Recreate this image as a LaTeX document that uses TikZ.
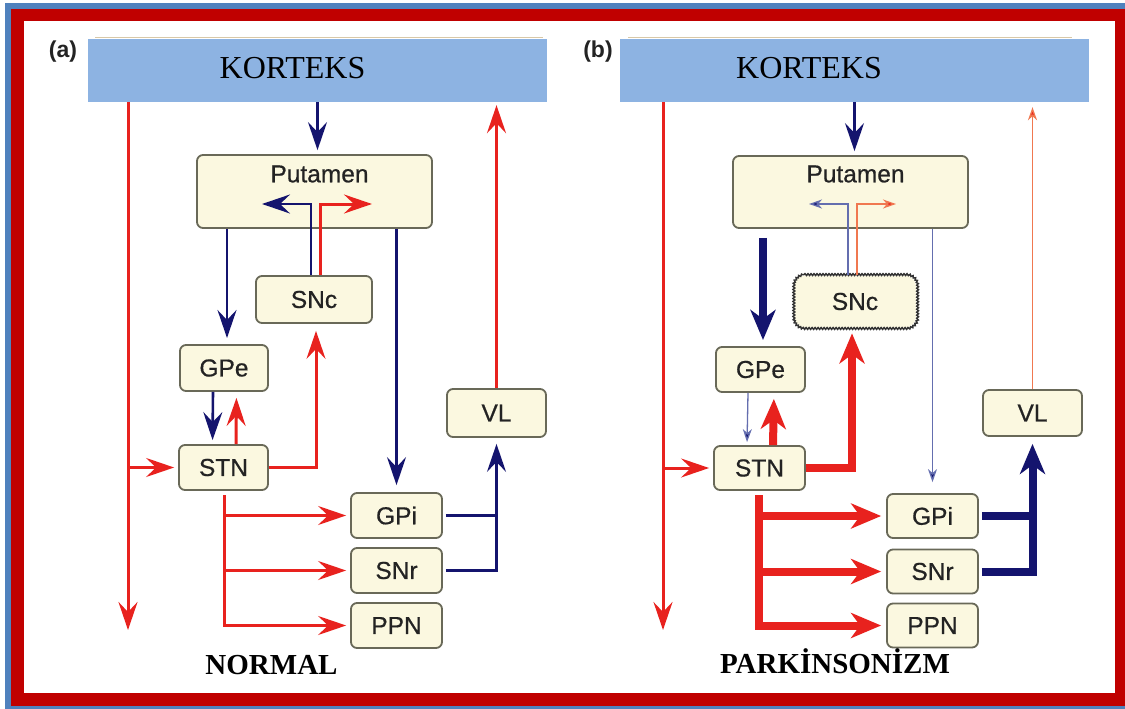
\documentclass[tikz,border=0pt]{standalone}
\usepackage{fontspec}
\setmainfont{Liberation Serif}
\newfontfamily\arialf{Liberation Sans}[FakeBold=0.6]
\newfontfamily\arialb{Liberation Sans}
\usetikzlibrary{arrows.meta,decorations.pathmorphing,calc}
\definecolor{framebl}{RGB}{79,129,189}
\definecolor{framered}{RGB}{192,0,0}
\definecolor{kfill}{RGB}{141,179,226}
\definecolor{boxfill}{RGB}{251,248,224}
\definecolor{boxborder}{RGB}{105,105,88}
\definecolor{boxtext}{RGB}{35,35,35}
\definecolor{redc}{RGB}{232,34,30}
\definecolor{navyc}{RGB}{20,20,110}
\definecolor{thinblue}{RGB}{100,110,175}
\definecolor{thinorange}{RGB}{240,120,80}
\definecolor{tanc}{RGB}{216,200,168}
\begin{document}
\begin{tikzpicture}[x=1pt,y=-1pt,
  kbox/.style={fill=kfill, draw=none, inner sep=0pt},
  ktext/.style={inner sep=0pt, font=\fontsize{32}{36}\selectfont, text=black},
  box/.style={draw=boxborder, fill=boxfill, line width=1.8pt, rounded corners=6pt,
    inner sep=0pt, font=\arialf\fontsize{24.5}{28}\selectfont, text=boxtext},
  btext/.style={inner sep=0pt, font=\arialf\fontsize{24.5}{28}\selectfont, text=boxtext},
  wavyline/.style={line width=1.5pt, draw=black!80, sharp corners, decorate,
    decoration={snake, amplitude=0.9pt, segment length=3pt}},
  lab/.style={inner sep=0pt, font=\arialb\bfseries\fontsize{23}{27}\selectfont, text=boxtext},
  ttl/.style={inner sep=0pt, font=\bfseries\fontsize{29}{32}\selectfont, text=black},
  rl/.style={draw=redc, line width=3pt},
  bl/.style={draw=navyc, line width=2.6pt},
  ra/.style={rl, -{Stealth[length=28pt,width=19pt,inset=10pt]}},
  ba/.style={bl, -{Stealth[length=28pt,width=19pt,inset=10pt]}},
  rthickl/.style={draw=redc, line width=8pt},
  bthickl/.style={draw=navyc, line width=8pt},
  rthick/.style={rthickl, -{Stealth[length=30pt,width=25pt,inset=9pt]}},
  bthick/.style={bthickl, -{Stealth[length=30pt,width=25pt,inset=9pt]}},
  bthin/.style={draw=thinblue, line width=1.3pt, -{Stealth[length=13pt,width=9pt,inset=4pt,fill=navyc]}},
  othin/.style={draw=thinorange, line width=1.3pt, -{Stealth[length=13pt,width=9pt,inset=4pt,fill=redc]}}
]
\useasboundingbox (0,0) rectangle (1125,709);
% frame
\fill[white] (0,0) rectangle (1125,709);
\fill[framebl] (5,3) rectangle (1125,709);
\fill[framered] (11,9) rectangle (1125,706);
\fill[white] (24,21) rectangle (1115,693);

% ---------------- panel (a) ----------------
\draw[tanc, line width=1pt] (95,38) -- (543,38);
\node[kbox, minimum width=459pt, minimum height=63pt] (ka) at (317.5,70.5) {};
\node[ktext, anchor=base] (kta) at (292.5,79) {KORTEKS};
\node[lab] (labA) at (63,52) {(a)};
\node[box, minimum width=235pt, minimum height=73pt] (pa) at (314.5,191.5) {};
\node[btext] (pta) at (319.5,174) {Putamen};
\node[box, minimum width=116pt, minimum height=47pt] (sa) at (314,299.5) {SNc};
\node[box, minimum width=88pt, minimum height=46pt] (ga) at (224,368) {GPe};
\node[box, minimum width=89pt, minimum height=45pt] (ta) at (223.5,467.5) {STN};
\node[box, minimum width=91pt, minimum height=45pt] (gia) at (396.5,515.5) {GPi};
\node[box, minimum width=91pt, minimum height=45pt] (sra) at (396.5,570.5) {SNr};
\node[box, minimum width=91pt, minimum height=45pt] (ppa) at (396.5,625.5) {PPN};
\node[box, minimum width=99pt, minimum height=48pt] (va) at (496.5,413) {VL};
\node[ttl, anchor=base] (nA) at (271.5,674) {NORMAL};

\coordinate (la) at (128,630);
\draw[ra] (ka.south -| la) -- (la);
\draw[ra, shorten >=4pt] (la |- ta.west) -- (ta.west);
\draw[ba, shorten >=4pt] (ka.south) -- (ka.south |- pa.north);
\coordinate (pla) at (262,204);
\coordinate (pra) at (372,204);
\draw[ba] ([xshift=-3pt]sa.north) |- (pla);
\draw[ra] ([xshift=6pt]sa.north) |- (pra);
\coordinate (gax) at (227,338);
\draw[ba] (pa.south -| gax) -- (gax);
\draw[ba, shorten >=7pt] (pa.south -| gia.north) -- (gia.north);
\draw[ba, shorten >=4pt] ([xshift=-11pt]ga.south) -- ([xshift=-11pt]ta.north);
\draw[ra, shorten >=6pt] ([xshift=12.5pt]ta.north) -- ([xshift=12.5pt]ga.south);
\draw[ra, shorten >=7pt] (ta.east) -| ([xshift=2pt]sa.south);
\coordinate (sta) at (224,495);
\draw[ra, shorten >=4pt] (sta) |- (ppa.west);
\draw[ra, shorten >=4pt] (sta |- gia.west) -- (gia.west);
\draw[ra, shorten >=4pt] (sta |- sra.west) -- (sra.west);
\draw[bl] ([xshift=3pt]gia.east) -- (gia.east -| va.south);
\draw[ba, shorten >=6pt] ([xshift=3pt]sra.east) -| (va.south);
\draw[ra, shorten >=3pt] (va.north) -- (va.north |- ka.south);

% ---------------- panel (b) ----------------
\draw[tanc, line width=1pt] (628,38) -- (1072,38);
\node[kbox, minimum width=469pt, minimum height=63pt] (kb) at (854.5,70.5) {};
\node[ktext, anchor=base] (ktb) at (809,79) {KORTEKS};
\node[lab] (labB) at (598,52) {(b)};
\node[box, minimum width=235pt, minimum height=72pt] (pb) at (850.5,192) {};
\node[btext] (ptb) at (855.5,174) {Putamen};
\node[box, draw=none, rounded corners=11pt, minimum width=122pt, minimum height=52pt] (sb) at (855,301.5) {SNc};
\draw[wavyline] ([xshift=11pt]sb.north west) -- ([xshift=-11pt]sb.north east)
  arc[start angle=-90, end angle=0, radius=11]
  -- ([yshift=11pt]sb.south east)
  arc[start angle=0, end angle=90, radius=11]
  -- ([xshift=11pt]sb.south west)
  arc[start angle=90, end angle=180, radius=11]
  -- ([yshift=-11pt]sb.north west)
  arc[start angle=180, end angle=270, radius=11] -- cycle;
\node[box, minimum width=89pt, minimum height=45pt] (gb) at (760.5,369.5) {GPe};
\node[box, minimum width=91pt, minimum height=44pt] (tb) at (759.5,468) {STN};
\node[box, minimum width=91pt, minimum height=44pt] (gib) at (932.5,516) {GPi};
\node[box, minimum width=91pt, minimum height=44pt] (srb) at (932.5,571.5) {SNr};
\node[box, minimum width=91pt, minimum height=44pt] (ppb) at (932.5,625.5) {PPN};
\node[box, minimum width=99pt, minimum height=46pt] (vb) at (1032.5,413) {VL};
\node[ttl, anchor=base] (nB) at (835,673) {PARKİNSONİZM};

\coordinate (lb) at (663,630);
\draw[ra] (kb.south -| lb) -- (lb);
\draw[ra, shorten >=4pt] (lb |- tb.west) -- (tb.west);
\draw[ba, shorten >=4pt] (kb.south) -- (kb.south |- pb.north);
\coordinate (plb) at (809,204);
\coordinate (prb) at (896,204);
\draw[bthin] ([xshift=-7pt]sb.north) |- (plb);
\draw[othin] ([xshift=2pt]sb.north) |- (prb);
\coordinate (gbx) at (763,340);
\draw[bthick] ([yshift=-9pt]pb.south -| gbx) -- (gbx);
\draw[bthin, shorten >=3pt] ([xshift=-12.5pt]gb.south) -- ([xshift=-12.5pt]tb.north);
\draw[rthick, shorten >=6pt] ([xshift=13.5pt]tb.north) -- ([xshift=13.5pt]gb.south);
\draw[rthick, shorten >=5pt] (tb.east) -| ([xshift=-3pt]sb.south);
\coordinate (stb) at (759,495);
\draw[rthick, shorten >=5pt] (stb) |- (ppb.west);
\draw[rthick, shorten >=5pt] (stb |- gib.west) -- (gib.west);
\draw[rthick, shorten >=5pt] (stb |- srb.west) -- (srb.west);
\draw[bthin, shorten >=11pt] (pb.south -| gib.north) -- (gib.north);
\draw[bthickl] ([xshift=3pt]gib.east) -- (gib.east -| vb.south);
\draw[bthick, shorten >=7pt] ([xshift=3pt]srb.east) -| (vb.south);
\draw[othin, shorten >=5pt] (vb.north) -- (vb.north |- kb.south);
\end{tikzpicture}
\end{document}
